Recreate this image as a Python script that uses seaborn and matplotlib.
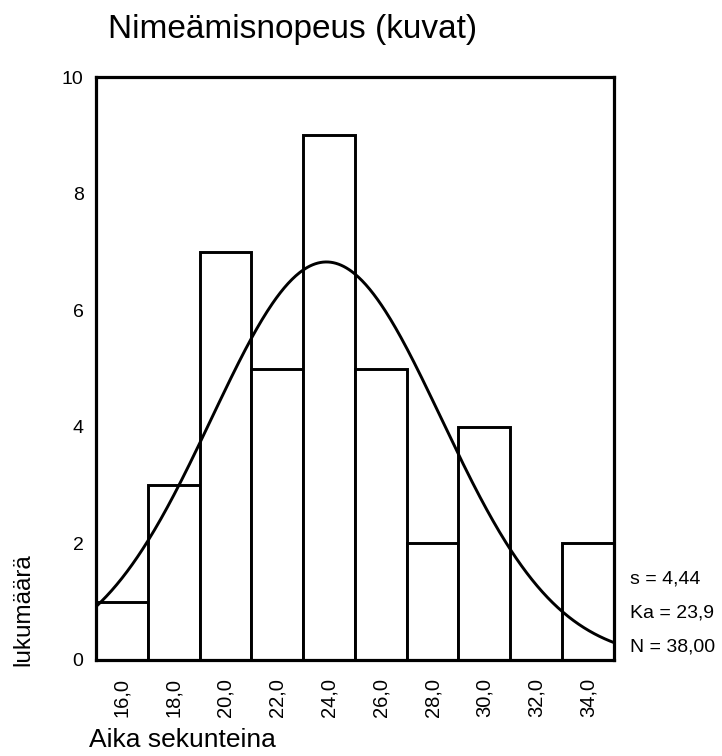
import numpy as np
import pandas as pd
import matplotlib
matplotlib.use("Agg")
import matplotlib.pyplot as plt
import seaborn as sns

# Data
bin_centers = [16, 18, 20, 22, 24, 26, 28, 30, 32, 34]
counts = [1, 3, 7, 5, 9, 5, 2, 4, 0, 2]
tick_labels = ["16,0", "18,0", "20,0", "22,0", "24,0", "26,0", "28,0", "30,0", "32,0", "34,0"]
y_ticks = [0, 2, 4, 6, 8, 10]
stat_sd = 4.44
stat_mean = 23.9
stat_n = 38
bin_width = 2.0

sns.set_style("white")
plt.rcParams["font.family"] = ["Liberation Sans", "DejaVu Sans"]
plt.rcParams["text.color"] = "black"
plt.rcParams["xtick.color"] = "black"
plt.rcParams["ytick.color"] = "black"
plt.rcParams["xtick.labelcolor"] = "black"
plt.rcParams["ytick.labelcolor"] = "black"

fig = plt.figure(figsize=(7.22, 7.56), dpi=100)
ax = fig.add_axes([0.133, 0.127, 0.717, 0.771])

edges = [c - bin_width / 2 for c in bin_centers] + [bin_centers[-1] + bin_width / 2]
df = pd.DataFrame({"aika": bin_centers, "n": counts})
sns.histplot(data=df, x="aika", weights="n", bins=edges, stat="count",
             color="white", edgecolor="black", linewidth=2.1, alpha=1, ax=ax)

# fitted normal curve from shown statistics
xs = np.linspace(edges[0], edges[-1], 400)
ys = stat_n * bin_width / (stat_sd * np.sqrt(2 * np.pi)) * np.exp(-0.5 * ((xs - stat_mean) / stat_sd) ** 2)
sns.lineplot(x=xs, y=ys, color="black", linewidth=2.1, ax=ax)

ax.set_xlim(edges[0], edges[-1])
ax.set_ylim(0, 10)
ax.set_xticks(bin_centers)
ax.set_xticklabels(tick_labels, rotation=90, fontsize=14.5, color="black")
ax.set_yticks(y_ticks)
ax.set_yticklabels([str(v) for v in y_ticks], fontsize=14, color="black")
ax.tick_params(axis="both", length=0)
ax.tick_params(axis="x", pad=13)
ax.tick_params(axis="y", pad=9)
ax.set_xlabel("")
ax.set_ylabel("")
for sp in ax.spines.values():
    sp.set_visible(True)
    sp.set_linewidth(2.3)
    sp.set_color("black")

fig.text(108 / 722, 1 - 38 / 756, "Nimeämisnopeus (kuvat)", fontsize=24,
         ha="left", va="baseline", color="black")
fig.text(89 / 722, 1 - 747 / 756, "Aika sekunteina", fontsize=19,
         ha="left", va="baseline", color="black")
fig.text(23 / 722, 1 - 610 / 756, "lukumäärä", fontsize=17.5, rotation=90,
         ha="center", va="center", color="black")

for txt, yy in [("s = 4,44", 579), ("Ka = 23,9", 613), ("N = 38,00", 647)]:
    fig.text(630 / 722, 1 - yy / 756, txt, fontsize=14, ha="left", va="center",
             color="black")

fig.savefig("out.png", dpi=100)
